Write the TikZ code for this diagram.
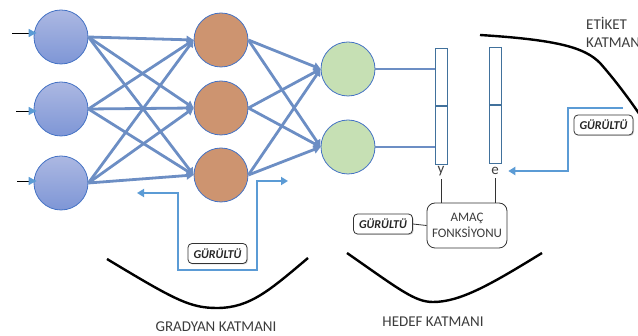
\documentclass[tikz,border=0pt]{standalone}
\usepackage{fontspec}
\setmainfont{Carlito}
\usetikzlibrary{arrows.meta,shadows}

\definecolor{edgeblue}{RGB}{108,142,196}
\definecolor{noiseblue}{RGB}{91,155,213}
\definecolor{rimblue}{RGB}{68,114,196}
\definecolor{inlight}{RGB}{172,184,226}
\definecolor{indark}{RGB}{126,150,214}
\definecolor{hidfill}{RGB}{205,148,112}
\definecolor{outfill}{RGB}{198,224,180}
\definecolor{barblue}{RGB}{65,113,156}
\definecolor{labelgray}{RGB}{60,60,60}

\tikzset{
  neuron/.style={circle, draw=rimblue, line width=0.8pt, minimum size=54pt, inner sep=0pt},
  inneuron/.style={neuron, top color=inlight, bottom color=indark},
  hidneuron/.style={neuron, fill=hidfill},
  outneuron/.style={neuron, fill=outfill},
  link/.style={edgeblue, line width=2.8pt, -{Triangle[length=7pt,width=8pt]}},
  noise/.style={noiseblue, line width=2pt, >={Triangle[length=7pt,width=8pt]}},
  noisebox/.style={draw=black!80, rounded corners=4pt, fill=white, line width=0.8pt,
    inner sep=1pt, minimum width=59pt, minimum height=20pt, text=black!85,
    font=\bfseries\itshape\fontsize{12}{14}\selectfont,
    drop shadow={shadow xshift=1pt, shadow yshift=-1pt, opacity=0.35}},
  goalbox/.style={draw=black!80, rounded corners=8pt, line width=0.8pt, align=center,
    minimum width=80pt, minimum height=45pt, text=labelgray,
    font=\fontsize{13}{16}\selectfont},
  bar/.style={rectangle, draw=barblue, line width=0.9pt, fill=white,
    minimum width=12pt, minimum height=57.5pt, inner sep=0pt},
  layername/.style={text=labelgray, font=\fontsize{15}{18.5}\selectfont},
  layercurve/.style={black, line width=2.4pt},
}

\begin{document}
\begin{tikzpicture}[x=1pt, y=-1pt]
  \useasboundingbox (0,0) rectangle (638,336);

  % input layer
  \node[inneuron] (in1) at (61,37) {};
  \node[inneuron] (in2) at (61,109) {};
  \node[inneuron] (in3) at (61,183) {};
  % gradient layer
  \node[hidneuron] (h1) at (221,40) {};
  \node[hidneuron] (h2) at (221,108) {};
  \node[hidneuron] (h3) at (221,175) {};
  % output layer
  \node[outneuron] (o1) at (348,69) {};
  \node[outneuron] (o2) at (348,147) {};

  % incoming signals
  \coordinate (x1) at (12,33);
  \coordinate (x2) at (16,111);
  \coordinate (x3) at (17,181);
  \foreach \i in {1,2,3}
    \draw[black, line width=0.9pt, shorten >=-3pt,
      -{Triangle[color=noiseblue,length=8pt,width=8pt]}] (x\i) -- (x\i -| in\i.west);

  \path[link]
    (in1.east) edge (h1.west) edge (h2.west) edge (h3.west)
    (in2.east) edge (h1.west) edge (h2.west) edge (h3.west)
    (in3.east) edge (h1.west) edge (h2.west) edge (h3.west);
  \path[link]
    (h1.east) edge (o1.west) edge (o2.west)
    (h2.east) edge (o1.west) edge (o2.west)
    (h3.east) edge (o1.west) edge (o2.west);

  % prediction and label vectors
  \node[bar, anchor=north] (ytop) at (441,48) {};
  \node[bar, anchor=north] (ybot) at (ytop.south) {};
  \node[bar, anchor=north] (etop) at (495,47) {};
  \node[bar, anchor=north] (ebot) at (etop.south) {};
  \draw[edgeblue, line width=2.2pt] (o1.east) -- (o1.east -| ytop.west);
  \draw[edgeblue, line width=2.2pt] (o2.east) -- (o2.east -| ybot.west);

  \node[layername] (ylab) at (441,171) {y};
  \node[layername] (elab) at (495,171) {e};

  % objective
  \node[goalbox] (goal) at (467,225.5) {AMAÇ\\FONKSİYONU};
  \node[noisebox] (goalnoise) at (383,224) {GÜRÜLTÜ};
  \draw[black!80, line width=0.8pt] (ylab.south) -- (ylab.south |- goal.north);
  \draw[black!80, line width=0.8pt] (elab.south) -- (elab.south |- goal.north);
  \draw[black!80, line width=0.8pt] (goalnoise.east) -- (goal.west);

  % noise on the gradients
  \node[noisebox] (gradnoise) at (217.5,253.5) {GÜRÜLTÜ};
  \coordinate (gl) at (137,193);
  \coordinate (gr) at (288,181);
  \draw[noise, <->] (gl) -- (178,193) -- (178,270) -- (257,270) -- (257,181) -- (gr);

  % noise on the labels
  \node[noisebox] (labelnoise) at (603.5,125) {GÜRÜLTÜ};
  \coordinate (er) at (623,108);
  \draw[noise, ->, shorten >=6pt] (er) -- (568,108) |- (elab);

  % layer brackets
  \draw[layercurve] (107,259) .. controls (175,300) and (190,308) .. (217,308)
    .. controls (250,308) and (270,290) .. (308,258);
  \draw[layercurve] (347,253) .. controls (400,290) and (415,302) .. (433,302)
    .. controls (460,302) and (490,285) .. (542,253);
  \draw[layercurve] (480,35) .. controls (560,40) and (585,48) .. (600,63)
    .. controls (615,80) and (630,100) .. (642,118);

  \node[layername] (gradname) at (216,327) {GRADYAN KATMANI};
  \node[layername] (hedefname) at (433,322) {HEDEF KATMANI};
  \node[layername, align=left, anchor=north west, inner sep=0pt] (etiketname) at (586,17) {ETİKET\\KATMANI};
\end{tikzpicture}
\end{document}
